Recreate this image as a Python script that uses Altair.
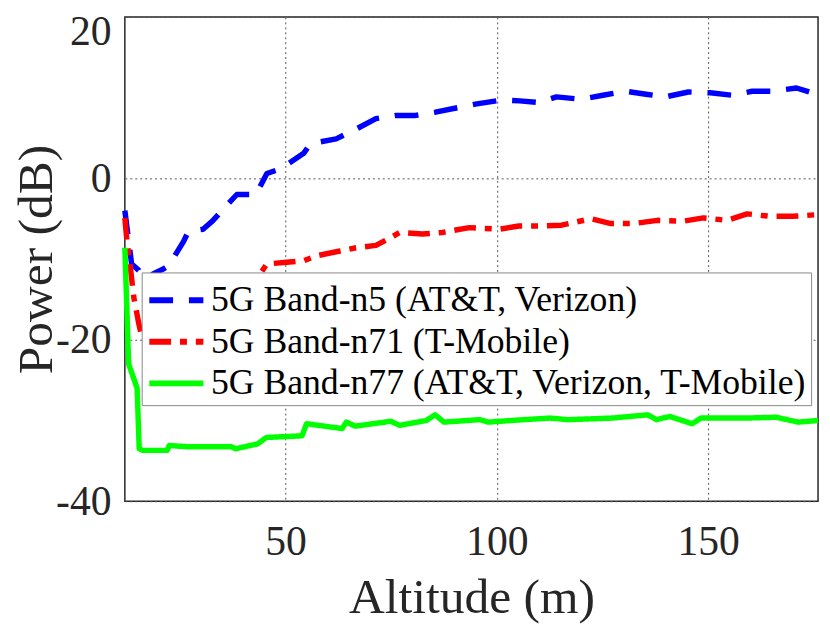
import altair as alt
import pandas as pd

series_names = [
    "5G Band-n5 (AT&T, Verizon)",
    "5G Band-n71 (T-Mobile)",
    "5G Band-n77 (AT&T, Verizon, T-Mobile)",
]
series_colors = ["#0000ff", "#ff0000", "#00ff00"]
series_dashes = [[24, 16], [22, 9, 7, 9], [1, 0]]

n5_alt = [12, 12.9, 13.6, 15.3, 16.5, 18.8, 21.2, 22.4, 25.9, 27.0, 30.5, 32.7, 36.0,
          38.5, 43.0, 45.6, 48.9, 54.3, 55.9, 62.0, 66.7, 71.4, 76.1, 80.8, 85.5, 91.1,
          94.9, 101.2, 105.4, 109.9, 114.1, 120.0, 125.1, 130.5, 135.7, 139.9, 145.3,
          150.5, 155.7, 160.4, 165.0, 170.9, 175.8]
n5_pow = [-4.0, -7.7, -10.6, -11.4, -12.9, -11.8, -11.2, -10.8, -7.8, -6.6, -6.3, -5.3, -3.4,
          -2.0, -2.0, 0.6, 1.2, 3.1, 4.3, 4.9, 6.1, 7.4, 7.8, 7.8, 8.2, 8.8,
          9.2, 9.7, 9.6, 9.4, 10.1, 9.8, 10.3, 10.8, 10.4, 10.1, 10.7,
          10.6, 10.3, 10.8, 10.8, 11.2, 10.4]

n71_alt = [12, 12.5, 13.3, 14.1, 15.3, 16.0, 17.5, 20, 24, 29, 34, 39, 42, 44.2, 45.6,
           50.3, 54.3, 57.3, 62.9, 66.7, 71.4, 74.7, 77.0, 82.4, 87.1, 93.5, 100.5,
           105.2, 109.9, 115.3, 122.3, 127.0, 132.4, 138.0, 144.2, 148.9, 154.5, 159.2,
           164.6, 170.0, 175.8]
n71_pow = [-4.9, -7.8, -11.0, -14.7, -18.0, -19.6, -20.3, -19.5, -17.8, -15.8, -14.2, -12.8,
           -12.2, -11.7, -10.6, -10.4, -10.2, -9.6, -9.0, -8.6, -8.3, -7.4, -6.7, -6.9,
           -6.7, -6.1, -6.3, -5.9, -5.9, -5.8, -5.0, -5.6, -5.6, -5.2, -5.3, -4.9, -5.2,
           -4.4, -4.7, -4.7, -4.5]

n77_alt = [12, 12.9, 14.9, 15.4, 16.2, 22, 22.5, 26.7, 37.2, 38.2, 43.4, 45.5, 53.9,
           55.0, 63.4, 64.4, 66.5, 74.9, 77.0, 83.3, 85.4, 87.5, 95.9, 98.0, 106.3,
           112.6, 116.8, 127.3, 135.7, 137.8, 140.9, 146.2, 148.3, 158.8, 166.1, 171.3,
           176.0]
n77_pow = [-8.6, -23.0, -26.0, -33.5, -33.7, -33.7, -33.1, -33.25, -33.25, -33.5, -32.9,
           -32.1, -31.9, -30.4, -31.0, -30.2, -30.7, -30.1, -30.6, -30.0, -29.3, -30.2,
           -29.9, -30.2, -29.9, -29.7, -29.9, -29.7, -29.3, -29.9, -29.5, -30.4, -29.7,
           -29.7, -29.6, -30.2, -30.0]

x_ticks = [50, 100, 150]
y_ticks = [-40, -20, 0, 20]

rows = []
for name, xs, ys in zip(series_names, [n5_alt, n71_alt, n77_alt], [n5_pow, n71_pow, n77_pow]):
    for i, (a, p) in enumerate(zip(xs, ys)):
        rows.append({"series": name, "alt": a, "pow": p, "idx": i})
df = pd.DataFrame(rows)

FONT = "Liberation Serif"

legend = alt.Legend(
    orient="none", legendX=17, legendY=258, title=None,
    fillColor="white", strokeColor="#888888", padding=4,
    labelFont=FONT, labelFontSize=36, labelColor="black", labelLimit=800,
    symbolType="M-1.3,0H1.3", symbolSize=1764, symbolStrokeWidth=6,
    symbolOffset=7, labelOffset=11, rowPadding=0,
)

chart = alt.Chart(df).mark_line(strokeWidth=5.5, strokeCap="butt", strokeJoin="round").encode(
    x=alt.X("alt:Q", scale=alt.Scale(domain=[12, 176], nice=False, zero=False),
            axis=alt.Axis(values=x_ticks, title="Altitude (m)", grid=True, ticks=False,
                          domain=False, labelFont=FONT, labelFontSize=42,
                          labelColor="#262626", labelPadding=21,
                          titleFont=FONT, titleFontSize=50, titleFontWeight="normal",
                          titleColor="#262626", titleBaseline="alphabetic", titleY=112,
                          gridDash=[2, 3], gridColor="#555555", gridWidth=1)),
    y=alt.Y("pow:Q", scale=alt.Scale(domain=[-40, 20], nice=False, zero=False),
            axis=alt.Axis(values=y_ticks, title="Power (dB)", grid=True, ticks=False,
                          domain=False, labelFont=FONT, labelFontSize=42,
                          labelColor="#262626", labelPadding=14,
                          labelExpr="'' + datum.value",
                          labelOffset=alt.condition("datum.value == 20", alt.value(15), alt.value(0)),
                          titleFont=FONT, titleFontSize=50, titleFontWeight="normal",
                          titleColor="#262626", titleBaseline="alphabetic",
                          titleX=-74, titleY=244.5, titleAngle=270,
                          gridDash=[2, 3], gridColor="#555555", gridWidth=1)),
    color=alt.Color("series:N", scale=alt.Scale(domain=series_names, range=series_colors),
                    legend=legend),
    strokeDash=alt.StrokeDash("series:N", scale=alt.Scale(domain=series_names, range=series_dashes),
                              legend=legend),
    order="idx:Q",
).properties(
    width=700, height=489,
    autosize=alt.AutoSizeParams(type="none"),
    padding={"left": 118, "top": 6, "right": 4, "bottom": 125},
).configure(
    background="white", font=FONT
).configure_view(
    stroke="#262626", strokeWidth=1.5
).configure_legend(
    labelFont=FONT, labelFontSize=36
).configure_axis(
    labelFont=FONT, titleFont=FONT
)

chart.save("out.html", embed_options={"renderer": "svg", "actions": False})
